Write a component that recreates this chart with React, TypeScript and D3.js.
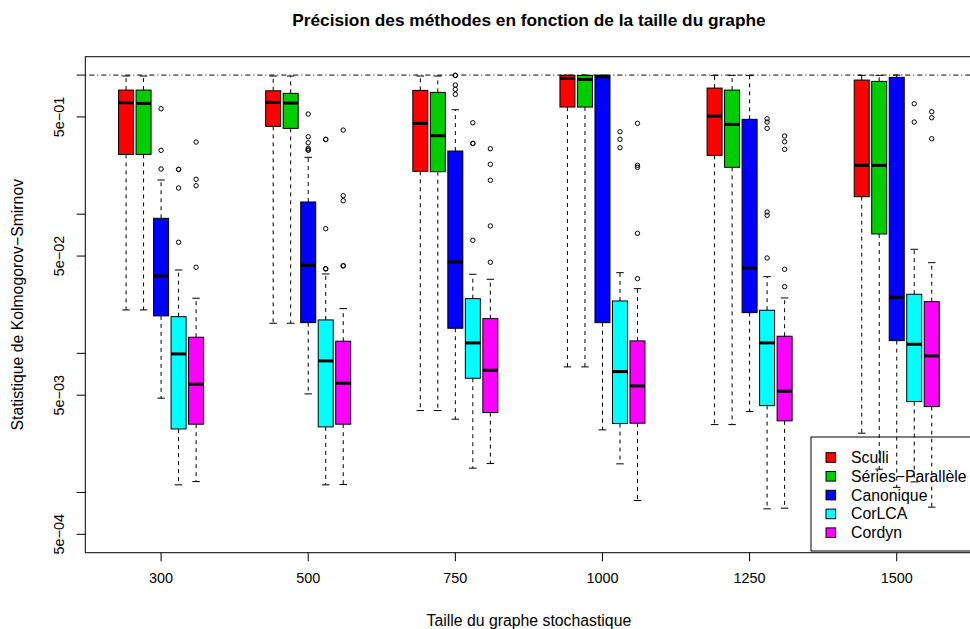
import React from "react";
import * as d3 from "d3";

const categories = ["300", "500", "750", "1000", "1250", "1500"];
const methods = ["Sculli", "Séries−Parallèle", "Canonique", "CorLCA", "Cordyn"];
const colors = ["#FF0000", "#00CD00", "#0000FF", "#00FFFF", "#FF00FF"];

// [lower whisker, Q1, median, Q3, upper whisker] per graph size
const sculliStats = [
  [0.0205, 0.269, 0.632, 0.78, 0.984],
  [0.01645, 0.428, 0.637, 0.771, 0.984],
  [0.003876, 0.2033, 0.45, 0.776, 0.984],
  [0.00799, 0.589, 0.947, 0.995, 1.0],
  [0.003074, 0.2649, 0.5075, 0.8065, 0.995],
  [0.002667, 0.1336, 0.2245, 0.9206, 0.995],
];
const seriesStats = [
  [0.0205, 0.269, 0.626, 0.78, 0.984],
  [0.01645, 0.414, 0.629, 0.739, 0.984],
  [0.003876, 0.202, 0.3664, 0.751, 0.984],
  [0.00799, 0.589, 0.931, 0.995, 1.0],
  [0.003074, 0.2172, 0.4424, 0.78, 0.995],
  [0.00147, 0.0721, 0.2245, 0.901, 0.995],
];
const canoniqueStats = [
  [0.00476, 0.01858, 0.036, 0.0934, 0.1761],
  [0.00511, 0.01661, 0.04294, 0.1224, 0.2563],
  [0.003362, 0.01514, 0.04536, 0.2844, 0.5634],
  [0.002817, 0.01661, 0.972, 0.995, 1.0],
  [0.003813, 0.01961, 0.04107, 0.4806, 0.995],
  [0.001088, 0.01234, 0.02529, 0.9627, 1.0],
];
const corlcaStats = [
  [0.001134, 0.00286, 0.0099, 0.01834, 0.0397],
  [0.001134, 0.00296, 0.00882, 0.01738, 0.0372],
  [0.001495, 0.00662, 0.01188, 0.02472, 0.037],
  [0.001605, 0.003126, 0.00739, 0.02379, 0.038],
  [0.000762, 0.00421, 0.01188, 0.0204, 0.03556],
  [0.001191, 0.0045, 0.01162, 0.02658, 0.05596],
];
const cordynStats = [
  [0.001197, 0.003095, 0.006, 0.01305, 0.02488],
  [0.00114, 0.003095, 0.0061, 0.01222, 0.02095],
  [0.001613, 0.00375, 0.00756, 0.01775, 0.03406],
  [0.000875, 0.003146, 0.00583, 0.01228, 0.02916],
  [0.000771, 0.00327, 0.00534, 0.01327, 0.025],
  [0.000784, 0.00414, 0.00958, 0.02352, 0.04484],
];

const sculliOutliers = [[], [], [], [], [], []];
const seriesOutliers = [[], [], [], [], [], []];
const canoniqueOutliers = [
  [0.5726, 0.2877, 0.2113],
  [0.5246, 0.3604, 0.3263, 0.2974, 0.2892, 0.2885],
  [0.997, 0.993, 0.8477, 0.7895, 0.7266],
  [],
  [],
  [],
];
const corlcaOutliers = [
  [0.2102, 0.2095, 0.1542, 0.0628],
  [0.3452, 0.344, 0.0787, 0.0406, 0.0404],
  [0.4543, 0.3231, 0.322, 0.0649],
  [0.3914, 0.3452, 0.3004],
  [0.4854, 0.4596, 0.414, 0.1037, 0.0982, 0.04845],
  [0.6221, 0.4596],
];
const cordynOutliers = [
  [0.33, 0.1781, 0.1602, 0.04155],
  [0.4026, 0.1358, 0.125, 0.04266, 0.0425],
  [0.2954, 0.2283, 0.1752, 0.0823, 0.04514],
  [0.45, 0.2245, 0.2172, 0.0729, 0.0344],
  [0.3646, 0.3317, 0.2925, 0.0402, 0.03015],
  [0.545, 0.4934, 0.3486],
];

const allStats = [sculliStats, seriesStats, canoniqueStats, corlcaStats, cordynStats];
const allOutliers = [sculliOutliers, seriesOutliers, canoniqueOutliers, corlcaOutliers, cordynOutliers];

const yTickValues = [1, 0.5, 0.1, 0.05, 0.01, 0.005, 0.001, 0.0005];
const yTickLabels = ["", "5e−01", "", "5e−02", "", "5e−03", "", "5e−04"];
const yLim = [5e-4, 1];
const refLine = 1;

const title = "Précision des méthodes en fonction de la taille du graphe";
const xTitle = "Taille du graphe stochastique";
const yTitle = "Statistique de Kolmogorov−Smirnov";

const W = 970;
const H = 629;
const plot = { left: 85.3, right: 972.5, top: 56.7, bottom: 552.7 };
const FONT = "'Liberation Sans', Arial, Helvetica, sans-serif";

export default function App() {
  const lo = Math.log10(yLim[0]);
  const hi = Math.log10(yLim[1]);
  const ext = (hi - lo) * 0.04;
  const y = d3
    .scaleLog()
    .domain([Math.pow(10, lo - ext), Math.pow(10, hi + ext)])
    .range([plot.bottom, plot.top]);
  const x = d3.scaleLinear().domain([0.485, 6.515]).range([plot.left, plot.right]);
  const step = 0.119;
  const boxW = 0.102;
  const pxW = x(boxW) - x(0);
  const capW = pxW / 2;

  const boxes: React.ReactNode[] = [];
  categories.forEach((cat, gi) => {
    methods.forEach((m, mi) => {
      const s = allStats[mi][gi];
      const cx = x(gi + 1 + (mi - 2) * step);
      const [wl, q1, med, q3, wh] = s;
      const key = `${gi}-${mi}`;
      boxes.push(
        <g key={key}>
          <line x1={cx} x2={cx} y1={y(q3)} y2={y(wh)} stroke="#000" strokeDasharray="4,4" />
          <line x1={cx} x2={cx} y1={y(q1)} y2={y(wl)} stroke="#000" strokeDasharray="4,4" />
          <line x1={cx - capW / 2} x2={cx + capW / 2} y1={y(wh)} y2={y(wh)} stroke="#000" />
          <line x1={cx - capW / 2} x2={cx + capW / 2} y1={y(wl)} y2={y(wl)} stroke="#000" />
          <rect
            x={cx - pxW / 2}
            y={y(q3)}
            width={pxW}
            height={Math.max(0.5, y(q1) - y(q3))}
            fill={colors[mi]}
            stroke="#000"
            strokeWidth={1}
          />
          <line x1={cx - pxW / 2} x2={cx + pxW / 2} y1={y(med)} y2={y(med)} stroke="#000" strokeWidth={3} />
          {allOutliers[mi][gi].map((v, oi) => (
            <circle key={oi} cx={cx} cy={y(v)} r={2.2} fill="none" stroke="#000" strokeWidth={1} />
          ))}
        </g>
      );
    });
  });

  const legendX = 811;
  const legendTop = 437;
  const legendBottom = 551;
  const rowH = 18.8;

  return (
    <svg width={W} height={H} style={{ display: "block", position: "absolute", left: 0, top: 0 }} fontFamily={FONT}>
      <rect x={0} y={0} width={W} height={H} fill="#fff" />
      <text x={(plot.left + plot.right) / 2} y={25.5} textAnchor="middle" fontWeight="bold" fontSize={17.3}>
        {title}
      </text>
      <line
        x1={plot.left}
        x2={plot.right}
        y1={y(refLine)}
        y2={y(refLine)}
        stroke="#000"
        strokeDasharray="1,3,5,3"
      />
      {boxes}
      <rect
        x={plot.left}
        y={plot.top}
        width={plot.right - plot.left}
        height={plot.bottom - plot.top}
        fill="none"
        stroke="#000"
      />
      {yTickValues.map((v, i) => (
        <g key={"yt" + i}>
          <line x1={plot.left - 8.6} x2={plot.left} y1={y(v)} y2={y(v)} stroke="#000" />
          {yTickLabels[i] && (
            <text
              transform={`translate(64,${y(v)}) rotate(-90)`}
              textAnchor="middle"
              fontSize={14.4}
            >
              {yTickLabels[i]}
            </text>
          )}
        </g>
      ))}
      {categories.map((c, i) => (
        <g key={"xt" + i}>
          <line x1={x(i + 1)} x2={x(i + 1)} y1={plot.bottom} y2={plot.bottom + 8.6} stroke="#000" />
          <text x={x(i + 1)} y={583} textAnchor="middle" fontSize={14.4}>
            {c}
          </text>
        </g>
      ))}
      <text x={(plot.left + plot.right) / 2} y={626} textAnchor="middle" fontSize={15.8}>
        {xTitle}
      </text>
      <text
        transform={`translate(22.5,${(plot.top + plot.bottom) / 2}) rotate(-90)`}
        textAnchor="middle"
        fontSize={15.8}
      >
        {yTitle}
      </text>
      <rect
        x={legendX}
        y={legendTop}
        width={W + 5 - legendX}
        height={legendBottom - legendTop}
        fill="none"
        stroke="#000"
      />
      {methods.map((m, i) => {
        const cy = 457.5 + i * rowH;
        return (
          <g key={"lg" + i}>
            <rect x={826} y={cy - 4.8} width={9.6} height={9.6} fill={colors[i]} stroke="#000" />
            <text x={851} y={cy + 5.5} fontSize={15.8}>
              {m}
            </text>
          </g>
        );
      })}
    </svg>
  );
}
